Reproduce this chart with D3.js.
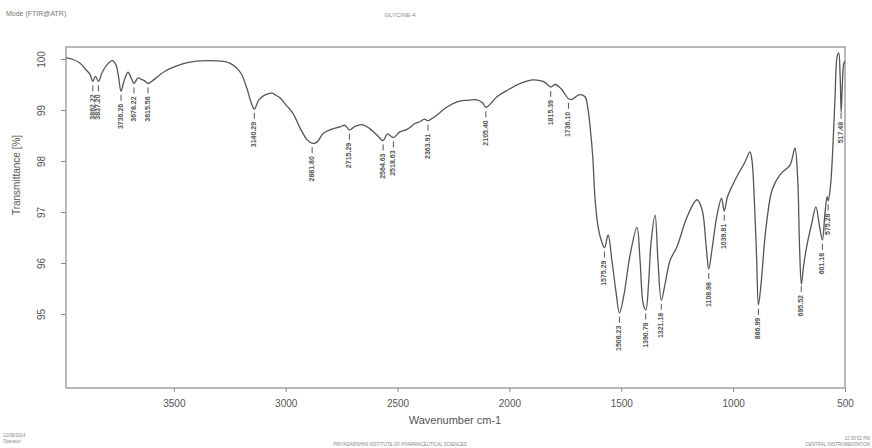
<!DOCTYPE html>
<html>
<head>
<meta charset="utf-8">
<script src="https://cdn.jsdelivr.net/npm/d3@7"></script>
<style>
  body { margin: 0; background: #fff; }
  svg { display: block; font-family: "Liberation Sans", Arial, sans-serif; }
</style>
</head>
<body>
<svg id="chart" width="872" height="448"></svg>
<script>
// spectrum, wavenumber (cm-1) -> transmittance (%)
var wavenumbers = [3982, 3950, 3920, 3895, 3875, 3862, 3850, 3837, 3822, 3800, 3775, 3760, 3748, 3736, 3722, 3705,
  3690, 3678, 3660, 3645, 3630, 3615, 3600, 3570, 3540, 3490, 3440, 3400, 3350, 3300, 3270, 3250, 3225, 3200,
  3173, 3155, 3140, 3120, 3090, 3061, 3040, 3026, 2995, 2968, 2936, 2905, 2882, 2860, 2833, 2802, 2757, 2735,
  2715, 2690, 2655, 2623, 2590, 2565, 2545, 2518, 2490, 2458, 2420, 2400, 2380, 2364, 2340, 2324, 2279, 2234,
  2190, 2145, 2120, 2105, 2085, 2056, 2020, 1984, 1940, 1895, 1850, 1830, 1815, 1795, 1770, 1750, 1736, 1720,
  1700, 1685, 1662, 1650, 1640, 1627, 1618, 1604, 1590, 1575, 1559, 1542, 1524, 1508, 1488, 1461, 1430, 1416,
  1402, 1390, 1378, 1367, 1349, 1336, 1321, 1305, 1282, 1251, 1206, 1162, 1139, 1120, 1109, 1095, 1072, 1052,
  1040, 1025, 1000, 978, 947, 925, 916, 905, 895, 887, 875, 860, 849, 826, 791, 746, 724, 712, 703, 695, 685,
  670, 650, 630, 615, 601, 590, 580, 575, 565, 555, 545, 535, 528, 522, 517, 512, 505, 500];

var transmittance = [100.02, 99.99, 99.92, 99.80, 99.70, 99.56, 99.66, 99.56, 99.72, 99.88, 99.97, 99.90, 99.68, 99.37, 99.58, 99.74,
  99.62, 99.52, 99.63, 99.60, 99.57, 99.52, 99.56, 99.66, 99.76, 99.86, 99.93, 99.96, 99.97, 99.96, 99.95, 99.92, 99.85, 99.72,
  99.42, 99.15, 99.02, 99.20, 99.30, 99.33, 99.28, 99.24, 99.08, 98.94, 98.65, 98.42, 98.35, 98.37, 98.54, 98.61, 98.67, 98.70,
  98.61, 98.68, 98.71, 98.63, 98.50, 98.40, 98.53, 98.46, 98.57, 98.62, 98.74, 98.77, 98.82, 98.79, 98.85, 98.90, 99.06, 99.16,
  99.19, 99.20, 99.14, 99.05, 99.12, 99.26, 99.36, 99.45, 99.54, 99.59, 99.56, 99.50, 99.45, 99.50, 99.42, 99.30, 99.22, 99.21,
  99.27, 99.30, 99.26, 99.05, 98.70, 98.05, 97.30, 96.72, 96.45, 96.30, 96.55, 96.05, 95.45, 95.02, 95.38, 96.15, 96.70, 96.05,
  95.20, 95.08, 95.60, 96.40, 96.94, 96.05, 95.27, 95.57, 96.05, 96.32, 96.90, 97.24, 97.05, 96.30, 95.88, 96.25, 96.94, 97.27,
  97.02, 97.30, 97.55, 97.74, 97.98, 98.18, 98.02, 97.20, 96.10, 95.18, 95.60, 96.40, 96.84, 97.43, 97.73, 97.92, 98.25, 97.70, 96.30, 95.58, 95.95,
  96.35, 96.75, 97.10, 96.75, 96.45, 96.95, 97.30, 97.22, 97.50, 98.20, 99.20, 100.05, 100.12, 99.70, 98.95, 99.50, 99.92, 99.95];

// peak picks printed under the trace
var peakWavenumbers = [3862.22, 3837.20, 3736.26, 3678.22, 3615.56, 3140.29, 2881.80, 2715.29, 2564.63, 2518.63,
  2363.91, 2105.40, 1815.39, 1736.10, 1575.29, 1508.23, 1390.79, 1321.18, 1108.98, 1039.81, 886.99, 695.52,
  601.18, 575.28, 517.48];

var xTicks = [3500, 3000, 2500, 2000, 1500, 1000, 500];
var yTicks = [100, 99, 98, 97, 96, 95];

var frame = { left: 66, right: 845, top: 47, bottom: 388 };

var svg = d3.select("#chart");

var x = d3.scaleLinear()
  .domain([3982, 500])
  .range([frame.left, frame.right]);

var y = d3.scaleLinear()
  .domain([100, 95])
  .range([59, 314]);

var points = wavenumbers.map(function(w, i) { return [w, transmittance[i]]; });

// header / footer of the printout
svg.append("text").attr("x", 6).attr("y", 16)
  .attr("font-size", 7).attr("fill", "#777").text("Mode (FTIR@ATR)");
svg.append("text").attr("x", 400).attr("y", 17)
  .attr("font-size", 6).attr("fill", "#888").attr("text-anchor", "middle").text("GLYCINE-4");
svg.append("text").attr("x", 3).attr("y", 437)
  .attr("font-size", 4.5).attr("fill", "#888").text("12/08/2014");
svg.append("text").attr("x", 3).attr("y", 443)
  .attr("font-size", 4.5).attr("fill", "#888").text("Operator");
svg.append("text").attr("x", 400).attr("y", 446)
  .attr("font-size", 4.5).attr("fill", "#888").attr("text-anchor", "middle")
  .text("PRIYADARSHINI INSTITUTE OF PHARMACEUTICAL SCIENCES");
svg.append("text").attr("x", 870).attr("y", 440)
  .attr("font-size", 4.5).attr("fill", "#888").attr("text-anchor", "end").text("12:35:52 PM");
svg.append("text").attr("x", 870).attr("y", 446)
  .attr("font-size", 4.5).attr("fill", "#888").attr("text-anchor", "end").text("CENTRAL INSTRUMENTATION");

// plot frame
svg.append("rect")
  .attr("x", frame.left).attr("y", frame.top)
  .attr("width", frame.right - frame.left).attr("height", frame.bottom - frame.top)
  .attr("fill", "none").attr("stroke", "#8a8a8a").attr("stroke-width", 1.2);

// x axis
var xAxis = d3.axisBottom(x).tickValues(xTicks).tickSize(4).tickPadding(8).tickFormat(d3.format("d"));
var gx = svg.append("g").attr("transform", "translate(0," + frame.bottom + ")").call(xAxis);
gx.select(".domain").remove();
gx.selectAll("line").attr("stroke", "#8a8a8a");
gx.selectAll("text").attr("font-size", 10).attr("fill", "#555").attr("font-family", "Liberation Sans, sans-serif");

svg.append("text").attr("x", 455).attr("y", 424)
  .attr("font-size", 11).attr("fill", "#555").attr("text-anchor", "middle").text("Wavenumber cm-1");

// y axis, labels turned sideways like the printout
var yAxis = d3.axisLeft(y).tickValues(yTicks).tickSize(5).tickFormat(d3.format("d"));
var gy = svg.append("g").attr("transform", "translate(" + frame.left + ",0)").call(yAxis);
gy.select(".domain").remove();
gy.selectAll("line").attr("stroke", "#8a8a8a");
gy.selectAll("text")
  .attr("font-size", 10).attr("fill", "#555")
  .attr("x", 0).attr("dy", 0)
  .attr("text-anchor", "middle")
  .attr("transform", "translate(-24,0) rotate(-90)")
  .attr("dominant-baseline", "middle");

svg.append("text")
  .attr("transform", "translate(20,175) rotate(-90)")
  .attr("font-size", 10).attr("fill", "#555").attr("text-anchor", "middle")
  .text("Transmittance [%]");

// spectrum trace
var line = d3.line()
  .x(function(d) { return x(d[0]); })
  .y(function(d) { return y(d[1]); })
  .curve(d3.curveCatmullRom.alpha(0.5));

svg.append("path")
  .datum(points)
  .attr("d", line)
  .attr("fill", "none")
  .attr("stroke", "#555")
  .attr("stroke-width", 1.3);

// transmittance at any wavenumber, straight interpolation between read points
function valueAt(w) {
  for (var i = 0; i < wavenumbers.length - 1; i++) {
    var a = wavenumbers[i], b = wavenumbers[i + 1];
    if (w <= a && w >= b) {
      var t = (a - w) / (a - b);
      return transmittance[i] + t * (transmittance[i + 1] - transmittance[i]);
    }
  }
  return transmittance[transmittance.length - 1];
}

var peaks = svg.append("g").selectAll("g")
  .data(peakWavenumbers)
  .enter().append("g")
  .attr("transform", function(d) { return "translate(" + x(d) + "," + y(valueAt(d)) + ")"; });

peaks.append("line")
  .attr("x1", 0).attr("x2", 0)
  .attr("y1", 4).attr("y2", 10)
  .attr("stroke", "#555").attr("stroke-width", 1);

peaks.append("text")
  .attr("transform", "translate(0,13) rotate(-90)")
  .attr("text-anchor", "end")
  .attr("dominant-baseline", "middle")
  .attr("font-size", 7)
  .attr("font-weight", "bold")
  .attr("fill", "#555")
  .text(function(d) { return d.toFixed(2); });
</script>
</body>
</html>
